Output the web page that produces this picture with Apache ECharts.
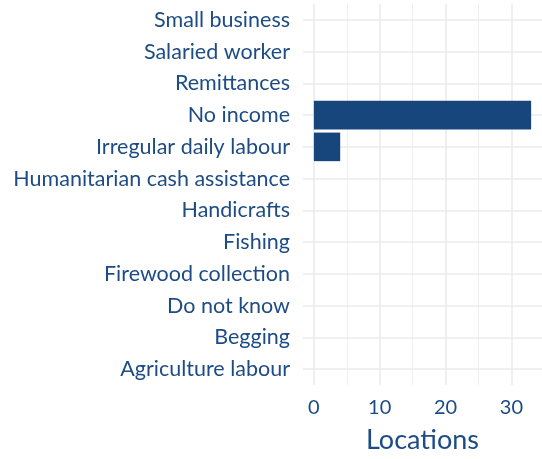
<!DOCTYPE html>
<html>
<head>
<meta charset="utf-8">
<script src="https://cdn.jsdelivr.net/npm/echarts@6/dist/echarts.min.js"></script>
<style>
  html, body { margin: 0; padding: 0; background: #fff; }
  #chart { width: 542px; height: 459px; }
</style>
</head>
<body>
<div id="chart"></div>
<script>
(function () {
    'use strict';

    // top to bottom, as in the picture
    const categories = [
        'Small business', 'Salaried worker', 'Remittances', 'No income',
        'Irregular daily labour', 'Humanitarian cash assistance', 'Handicrafts',
        'Fishing', 'Firewood collection', 'Do not know', 'Begging', 'Agriculture labour'
    ];
    const locations = [0, 0, 0, 33, 4, 0, 0, 0, 0, 0, 0, 0];
    const majorTicks = [0, 10, 20, 30];
    const minorTicks = [5, 15, 25];

    const textColor = '#1d4c85';
    const barColor = '#17467d';
    const font = 'Lato';

    const gridLines = [];
    majorTicks.forEach(function (v) {
        gridLines.push({ xAxis: v, lineStyle: { color: '#ebebeb', width: 1.6, type: 'solid' } });
    });
    minorTicks.forEach(function (v) {
        gridLines.push({ xAxis: v, lineStyle: { color: '#ebebeb', width: 0.8, type: 'solid' } });
    });
    categories.forEach(function (c) {
        gridLines.push({ yAxis: c, lineStyle: { color: '#ebebeb', width: 1.6, type: 'solid' } });
    });

    const chart = echarts.init(document.getElementById('chart'), null, { renderer: 'canvas' });
    chart.setOption({
        animation: false,
        textStyle: { fontFamily: font },
        grid: { left: 303, right: 0, top: 4, height: 381 },
        xAxis: {
            type: 'value',
            min: -1.65,
            max: 34.65,
            name: 'Locations',
            nameLocation: 'middle',
            nameGap: 42,
            nameTextStyle: { color: textColor, fontSize: 27, fontFamily: font },
            axisLine: { show: false },
            axisTick: { show: false },
            splitLine: { show: false },
            axisLabel: {
                customValues: majorTicks,
                color: textColor,
                fontSize: 20,
                margin: 13,
                fontFamily: font
            }
        },
        yAxis: {
            type: 'category',
            data: categories,
            inverse: true,
            axisLine: { show: false },
            axisTick: { show: false },
            splitLine: { show: false },
            axisLabel: { color: textColor, fontSize: 21.5, margin: 13, fontFamily: font }
        },
        series: [
            {
                type: 'line',
                data: [],
                z: 0,
                silent: true,
                markLine: {
                    silent: true,
                    z: 0,
                    symbol: 'none',
                    label: { show: false },
                    animation: false,
                    data: gridLines
                }
            },
            {
                type: 'bar',
                data: locations,
                z: 3,
                barCategoryGap: '10%',
                itemStyle: { color: barColor }
            }
        ]
    });
}());
</script>
</body>
</html>
